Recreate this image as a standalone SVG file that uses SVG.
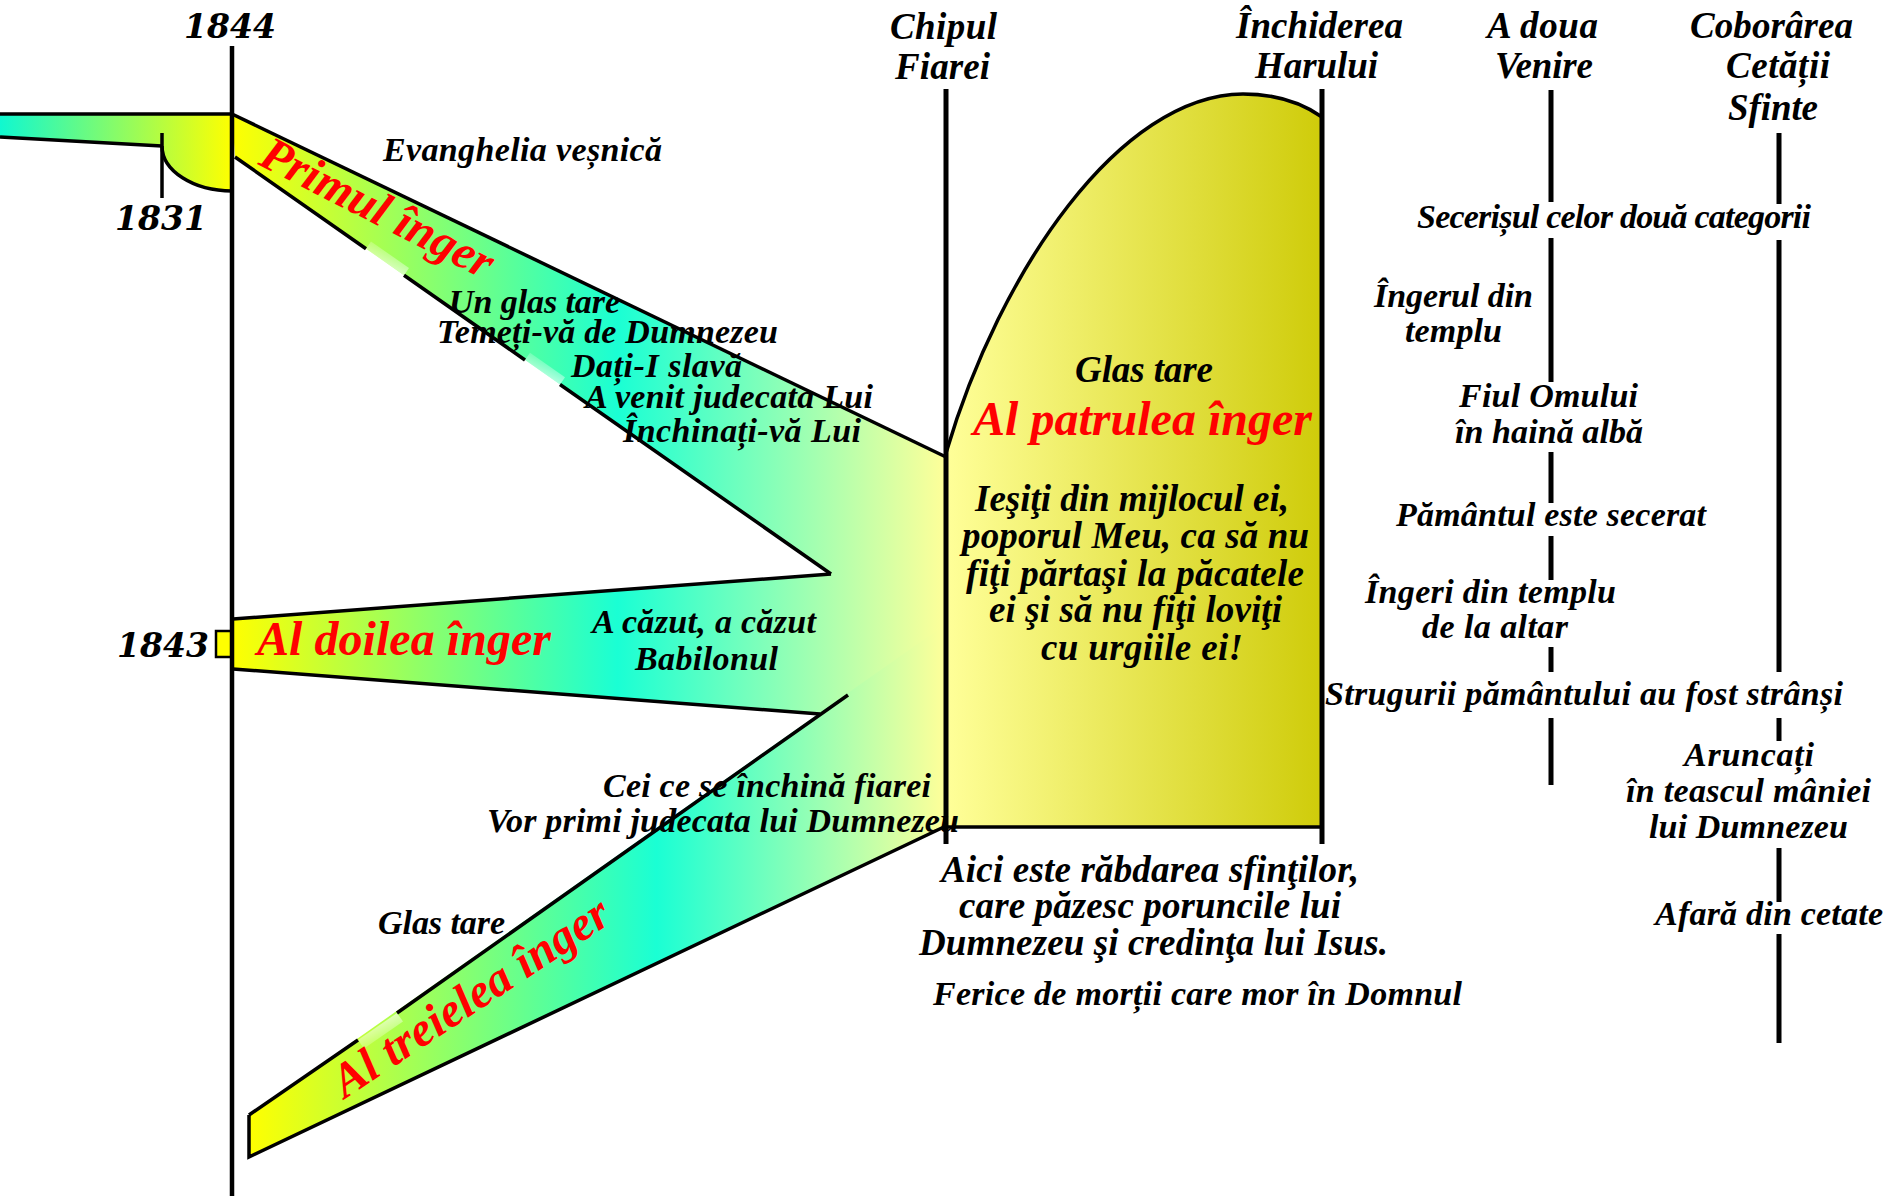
<svg xmlns="http://www.w3.org/2000/svg" width="1895" height="1196" viewBox="0 0 1895 1196">
<style>
.t{font-family:"Liberation Serif","Times New Roman",serif;font-weight:bold;font-style:italic;fill:#000}
.h{font-size:37px}
.b{font-size:34px}
.bb{font-size:37px}
.r{font-size:48px;fill:#ff0000}
.y{font-family:"DejaVu Serif",serif;font-weight:bold;font-style:italic;font-size:33px;fill:#000;text-anchor:middle}
.edge{fill:none;stroke:#000;stroke-width:3.5;stroke-linecap:butt}
.axis{fill:none;stroke:#000;stroke-width:5}
</style>
<defs>
<linearGradient id="gPast" gradientUnits="userSpaceOnUse" x1="0" y1="0" x2="232" y2="0">
<stop offset="0" stop-color="#10f8d0"/>
<stop offset="1" stop-color="#ffff00"/>
</linearGradient>
<linearGradient id="gUpper" gradientUnits="userSpaceOnUse" x1="232" y1="0" x2="946" y2="0">
<stop offset="0" stop-color="#ffff00"/>
<stop offset="0.54" stop-color="#1affd4"/>
<stop offset="1" stop-color="#ffff99"/>
</linearGradient>
<linearGradient id="gLower" gradientUnits="userSpaceOnUse" x1="249" y1="0" x2="946" y2="0">
<stop offset="0" stop-color="#ffff00"/>
<stop offset="0.585" stop-color="#1affd4"/>
<stop offset="1" stop-color="#ffff99"/>
</linearGradient>
<linearGradient id="gFourth" gradientUnits="userSpaceOnUse" x1="946" y1="0" x2="1322" y2="0">
<stop offset="0" stop-color="#ffff99"/>
<stop offset="1" stop-color="#cfcc0a"/>
</linearGradient>
<linearGradient id="gFade1" gradientUnits="objectBoundingBox" x1="0" y1="1" x2="0.6" y2="0">
<stop offset="0" stop-color="#fff" stop-opacity="1"/>
<stop offset="1" stop-color="#fff" stop-opacity="0"/>
</linearGradient>
<linearGradient id="gFade3" gradientUnits="objectBoundingBox" x1="0" y1="0" x2="0.6" y2="1">
<stop offset="0" stop-color="#fff" stop-opacity="1"/>
<stop offset="1" stop-color="#fff" stop-opacity="0"/>
</linearGradient>
</defs>
<rect width="1895" height="1196" fill="#fff"/>

<g id="band-past">
<path d="M0,114 H232 V191 A70,45 0 0 1 162,146 L0,137 Z" fill="url(#gPast)"/>
<path class="edge" d="M0,114 H232"/>
<path class="edge" d="M0,137 L162,146"/>
<path class="edge" d="M232,191 A70,45 0 0 1 162,146"/>
<path class="edge" d="M162,133 V198"/>
</g>

<g id="angels-1-2-3">
<path d="M232,114 L946,457 L946,625 L820,714 L233,669 L233,619 L831,574 L235,157 Z" fill="url(#gUpper)"/>
<path d="M249,1115 L946,624 L946,826 L249,1157 Z" fill="url(#gLower)"/>
<path d="M366,248.7 L404,275.3 L409,268 L371,241.5 Z" fill="url(#gFade1)"/>
<path d="M525,360 L560,384.5 L565,377.2 L530,352.7 Z" fill="url(#gFade1)"/>
<path d="M358,1040 L397,1013 L403,1021.5 L364,1048.5 Z" fill="url(#gFade3)"/>
<path class="edge" d="M232,114 L946,457"/>
<path class="edge" d="M235,157 L366,248.7 M404,275.3 L525,360 M560,384.5 L831,574"/>
<path class="edge" d="M233,619 L831,574"/>
<path class="edge" d="M233,669 L820,714"/>
<path class="edge" d="M249,1115 L358,1040 M397,1013 L848,695"/>
<path class="edge" d="M249,1115 V1157 L946,826"/>
</g>

<g id="angel4">
<path d="M946,453 C1000,270 1120,95 1243,94 C1280,94 1305,105 1322,117 V827 H946 Z" fill="url(#gFourth)"/>
<path class="edge" d="M946,453 C1000,270 1120,95 1243,94 C1280,94 1305,105 1322,117" stroke-width="4"/>
<path class="edge" d="M946,827 H1322" stroke-width="5"/>
</g>

<g id="connectors">
<path d="M232,46 V1196" fill="none" stroke="#000" stroke-width="4.5"/>
<path class="axis" d="M946,89 V844"/>
<path class="axis" d="M1322,89 V844"/>
<path class="axis" d="M1551,90 V202 M1551,238 V382 M1551,452 V503 M1551,536 V580 M1551,647 V672 M1551,718 V785"/>
<path class="axis" d="M1779,133 V204 M1779,240 V672 M1779,718 V741 M1779,848 V902 M1779,934 V1043"/>
</g>

<g id="year-1843">
<rect x="216" y="631" width="15" height="26" fill="#ffff00" stroke="#000" stroke-width="2.5"/>
<text class="y" x="163" y="657">1843</text>
</g>
<g id="year-1844"><text class="y" x="230" y="38">1844</text></g>
<g id="year-1831"><text class="y" x="161" y="230">1831</text></g>

<g id="headers">
<text class="t h" x="890" y="39" textLength="107">Chipul</text>
<text class="t h" x="895" y="79" textLength="95">Fiarei</text>
<text class="t h" x="1236" y="38" textLength="167">Închiderea</text>
<text class="t h" x="1255" y="78" textLength="123">Harului</text>
<text class="t h" x="1487" y="38" textLength="111">A doua</text>
<text class="t h" x="1495" y="78" textLength="98">Venire</text>
<text class="t h" x="1690" y="38" textLength="163">Coborârea</text>
<text class="t h" x="1726" y="78" textLength="104">Cetății</text>
<text class="t h" x="1728" y="120" textLength="90">Sfinte</text>
</g>

<g id="angel1-text">
<text class="t r" transform="translate(257,164) rotate(27)" textLength="255">Primul înger</text>
<text class="t b" x="383" y="161" textLength="279">Evanghelia veșnică</text>
<text class="t b" x="449" y="313" textLength="171">Un glas tare</text>
<text class="t b" x="437" y="343" textLength="341">Temeți-vă de Dumnezeu</text>
<text class="t b" x="571" y="377" textLength="171">Dați-I slavă</text>
<text class="t b" x="585" y="408" textLength="288">A venit judecata Lui</text>
<text class="t b" x="623" y="442" textLength="238">Închinați-vă Lui</text>
</g>

<g id="angel2-text">
<text class="t r" x="257" y="655" textLength="294">Al doilea înger</text>
<text class="t b" x="592" y="633" textLength="224">A căzut, a căzut</text>
<text class="t b" x="635" y="670" textLength="143">Babilonul</text>
</g>

<g id="angel3-text">
<text class="t r" transform="translate(345,1099) rotate(-33.5)" textLength="322">Al treielea înger</text>
<text class="t b" x="378" y="934" textLength="127">Glas tare</text>
<text class="t b" x="603" y="797" textLength="328">Cei ce se închină fiarei</text>
<text class="t b" x="487" y="832" textLength="472">Vor primi judecata lui Dumnezeu</text>
</g>

<g id="angel4-text">
<text class="t bb" x="1075" y="382" textLength="138">Glas tare</text>
<text class="t r" x="973" y="435" textLength="339">Al patrulea înger</text>
<text class="t bb" x="975" y="511" textLength="314">Ieşiţi din mijlocul ei,</text>
<text class="t bb" x="962" y="548" textLength="347">poporul Meu, ca să nu</text>
<text class="t bb" x="966" y="586" textLength="338">fiţi părtaşi la păcatele</text>
<text class="t bb" x="989" y="622" textLength="293">ei şi să nu fiţi loviţi</text>
<text class="t bb" x="1041" y="660" textLength="202">cu urgiile ei!</text>
</g>

<g id="saints-text">
<text class="t bb" x="941" y="882" textLength="418">Aici este răbdarea sfinţilor,</text>
<text class="t bb" x="959" y="918" textLength="382">care păzesc poruncile lui</text>
<text class="t bb" x="919" y="955" textLength="469">Dumnezeu şi credinţa lui Isus.</text>
<text class="t b" x="933" y="1005" textLength="529">Ferice de morții care mor în Domnul</text>
</g>

<g id="harvest-text">
<text class="t b" x="1417" y="228" textLength="394">Secerișul celor două categorii</text>
<text class="t b" x="1374" y="307" textLength="159">Îngerul din</text>
<text class="t b" x="1405" y="342" textLength="97">templu</text>
<text class="t b" x="1459" y="407" textLength="179">Fiul Omului</text>
<text class="t b" x="1455" y="443" textLength="188">în haină albă</text>
<text class="t b" x="1396" y="526" textLength="310">Pământul este secerat</text>
<text class="t b" x="1365" y="603" textLength="251">Îngeri din templu</text>
<text class="t b" x="1422" y="638" textLength="146">de la altar</text>
<text class="t b" x="1325" y="705" textLength="518">Strugurii pământului au fost strânși</text>
<text class="t b" x="1684" y="766" textLength="130">Aruncați</text>
<text class="t b" x="1626" y="802" textLength="245">în teascul mâniei</text>
<text class="t b" x="1649" y="838" textLength="199">lui Dumnezeu</text>
<text class="t b" x="1655" y="925" textLength="228">Afară din cetate</text>
</g>
</svg>
